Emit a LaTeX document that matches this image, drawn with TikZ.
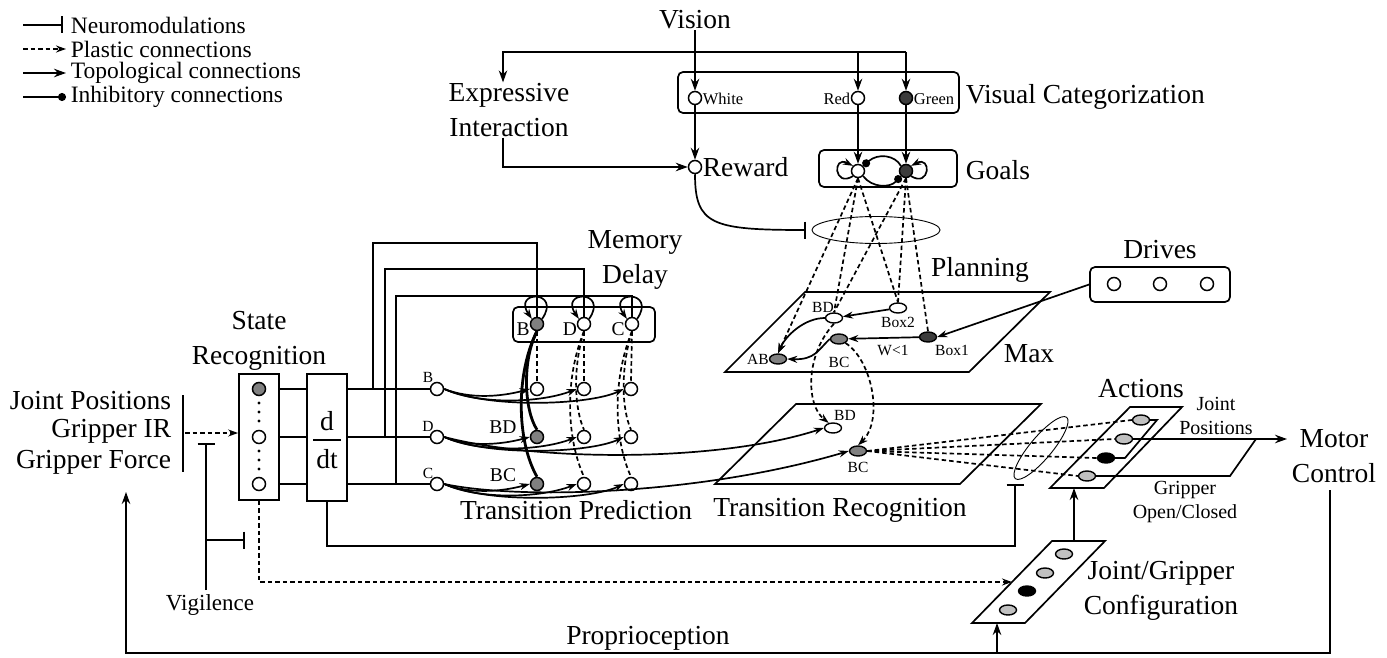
\documentclass[tikz,border=0pt]{standalone}
\usepackage{fontspec}
\setmainfont{Liberation Serif}
\usetikzlibrary{arrows.meta,shapes.geometric,calc}
\definecolor{mgray}{RGB}{128,128,128}
\definecolor{dgray}{RGB}{60,60,60}
\definecolor{lgray}{RGB}{192,192,192}
\begin{document}
\begin{tikzpicture}[x=1pt,y=-1pt,line width=1.7pt,
  big/.style={font=\fontsize{27.5}{35}\selectfont,inner sep=0pt,align=center},
  leg/.style={font=\fontsize{23.5}{25}\selectfont,inner sep=0pt,anchor=west},
  med/.style={font=\fontsize{19.5}{24}\selectfont,inner sep=0pt,align=center},
  sml/.style={font=\fontsize{15.5}{17}\selectfont,inner sep=0pt},
  nw/.style={circle,draw,fill=white,minimum size=13pt,inner sep=0pt,line width=1.5pt},
  ng/.style={nw,fill=mgray},
  nd/.style={nw,fill=dgray},
  ew/.style={ellipse,draw,fill=white,minimum width=17pt,minimum height=10pt,inner sep=0pt,line width=1.4pt},
  eg/.style={ew,fill=mgray},
  ed/.style={ew,fill=dgray},
  el/.style={ew,fill=lgray},
  ek/.style={ew,fill=black},
  ar/.style={-{Stealth[length=12pt,width=8.5pt]}},
  sar/.style={-{Stealth[length=10pt,width=7pt]}},
  pls/.style={dash pattern=on 4.5pt off 3pt},
  plsa/.style={pls,-{Stealth[length=10pt,width=7pt]}},
  inh/.style={-{Circle[length=8pt]}},
  nmod/.style={-{Bar[width=17pt]}},
  rbox/.style={draw,rounded corners=5pt,inner sep=0pt},
  sqbox/.style={draw,inner sep=0pt},
  hair/.style={line width=0.9pt},
  heavy/.style={line width=2.8pt},
]
\useasboundingbox (0,0) rectangle (1387,658);

% ---------------- legend
\node[leg] (lt1) at (70,25) {Neuromodulations};
\node[leg] (lt2) at (70,49) {Plastic connections};
\node[leg] (lt3) at (70,73) {Topological connections};
\node[leg] (lt4) at (70,97) {Inhibitory connections};
\coordinate (ls1) at (23,25); \coordinate (le1) at (63,25);
\coordinate (ls2) at (23,49); \coordinate (le2) at (66,49);
\coordinate (ls3) at (23,73); \coordinate (le3) at (66,73);
\coordinate (ls4) at (23,97); \coordinate (le4) at (66,97);
\draw[nmod] (ls1) -- (le1);
\draw[plsa] (ls2) -- (le2);
\draw[ar] (ls3) -- (le3);
\draw[inh] (ls4) -- (le4);

% ---------------- vision / visual categorization
\node[big] (vision) at (695,20) {Vision};
\node[rbox,minimum width=281pt,minimum height=41pt] (vcbox) at (818.5,92.5) {};
\node[nw] (white) at (695,98) {};
\node[nw] (red) at (858,98) {};
\node[nd] (green) at (906,98) {};
\node[sml,anchor=west,font=\fontsize{16.5}{18}\selectfont] (whitel) at (702,99) {White};
\node[sml,anchor=east,font=\fontsize{16.5}{18}\selectfont] (redl) at (851,99) {Red};
\node[sml,anchor=west,font=\fontsize{16.5}{18}\selectfont] (greenl) at (913,99) {Green};
\node[big,anchor=west] (vclab) at (965,97) {Visual Categorization};

\node[big] (expr) at (509,110) {Expressive\\Interaction};
\coordinate (vj) at (695,52);
\coordinate (ej) at (503,52);
\coordinate (gj) at (906,52);
\draw[ar] (vision) -- (white);
\draw[ar] (vj) -- (ej) -- (ej |- expr.north);
\draw (vj) -- (gj);
\draw[ar] (red |- vj) -- (red);
\draw[ar] (gj) -- (green);

\node[nw] (reward) at (695,167) {};
\node[big,anchor=west] (rewl) at (702,167) {Reward};
\draw[ar] (white) -- (reward);
\draw[ar] (ej |- expr.south) |- (reward);

\node[draw,ellipse,hair,minimum width=128pt,minimum height=27pt,inner sep=0pt] (modell) at (876,230) {};
\coordinate (nmr) at (806,230);
\draw[nmod] (reward.south) .. controls (695,225) and (712,230) .. (nmr);

% ---------------- goals
\node[rbox,minimum width=138pt,minimum height=37pt] (gbox) at (888,168.5) {};
\node[nw] (gw) at (858,171) {};
\node[nd] (gd) at (906,171) {};
\node[big,anchor=west] (goalsl) at (965,170) {Goals};
\draw[ar] (red) -- (gw);
\draw[ar] (green) -- (gd);
\draw[inh] (gd.north west) .. controls (895,155) and (878,153) .. (gw.north east);
\draw[inh] (gw.south east) .. controls (872,188) and (890,188) .. (gd.south west);
\draw[sar] (gw.225) .. controls (834,188) and (832,155) .. (gw.135);
\draw[sar] (gd.-45) .. controls (930,188) and (932,155) .. (gd.45);

% ---------------- planning
\coordinate (p1) at (805,292); \coordinate (p2) at (1050,292);
\coordinate (p3) at (969,372); \coordinate (p4) at (725,372);
\draw (p1) -- (p2) -- (p3) -- (p4) -- cycle;
\node[big] (planl) at (980,270) {Planning};
\node[big] (maxl) at (1029,354) {Max};
\node[ew] (pBD) at (834,318) {};
\node[ew] (pBoxB) at (898,308) {};
\node[eg] (pBC) at (839,339) {};
\node[ed] (pBoxA) at (928,337) {};
\node[eg] (pAB) at (778,359) {};
\node[sml] (pBDl) at (823,307) {BD};
\node[sml] (pBoxBl) at (898,322) {Box2};
\node[sml] (pBCl) at (839,362) {BC};
\node[sml] (pBoxAl) at (952,350) {Box1};
\node[sml] (pABl) at (758,359) {AB};
\node[sml] (pWl) at (893,350) {W<1};
\draw[sar] (pBoxB) -- (pBD);
\draw[sar] (pBoxA) -- (pBC);
\draw[sar] (pBD.west) .. controls (805,318) and (786,335) .. (pAB.north);
\draw[sar] (pBC.west) .. controls (818,350) and (815,360) .. (pAB.east);

% goals -> planning
\draw[plsa] (gw.south) -- (pAB.north);
\draw[pls] (gw.south) -- (pBD.north);
\draw[pls] (gw.south) -- (pBoxB.north);
\draw[pls] (gd.south) -- (pBD.north);
\draw[pls] (gd.south) -- (pBoxB.north);
\draw[pls] (gd.south) -- (pBoxA.north);

% drives
\node[rbox,minimum width=140pt,minimum height=35pt] (drv) at (1160,284.5) {};
\node[nw] (dr1) at (1114,284) {};
\node[nw] (dr2) at (1160,284) {};
\node[nw] (dr3) at (1207,284) {};
\node[big] (drvl) at (1160,250) {Drives};
\draw[sar] (drv.west) -- (pBoxA.east);

% ---------------- transition recognition
\coordinate (r1) at (796,404); \coordinate (r2) at (1041,404);
\coordinate (r3) at (960,484); \coordinate (r4) at (715,484);
\draw (r1) -- (r2) -- (r3) -- (r4) -- cycle;
\node[ew] (tBD) at (833,428) {};
\node[eg] (tBC) at (858,451) {};
\node[sml] (tBDl) at (845,415) {BD};
\node[sml] (tBCl) at (858,467) {BC};
\node[big] (trl) at (840,510) {Transition Recognition};
\draw[plsa] (pBD.south) .. controls (805,355) and (806,405) .. (tBD.130);
\draw[plsa] (pBC.south east) .. controls (872,360) and (884,420) .. (tBC.north);

% ---------------- actions
\coordinate (q1) at (1130,407); \coordinate (q2) at (1182,407);
\coordinate (q3) at (1104,488); \coordinate (q4) at (1050,488);
\draw (q1) -- (q2) -- (q3) -- (q4) -- cycle;
\node[big] (actl) at (1141,389) {Actions};
\node[el] (a1) at (1141,420) {};
\node[el] (a2) at (1124,439) {};
\node[ek] (a3) at (1106,458) {};
\node[el] (a4) at (1087,476) {};
\draw[pls] (tBC.east) -- (a1.west);
\draw[pls] (tBC.east) -- (a2.west);
\draw[pls] (tBC.east) -- (a3.west);
\draw[pls] (tBC.east) -- (a4.west);
\node[draw,ellipse,hair,minimum width=80pt,minimum height=22pt,inner sep=0pt,rotate=50] (aell) at (1041,448) {};
\coordinate (o1) at (1157,420); \coordinate (o2) at (1125,458);
\coordinate (o3) at (1256,439); \coordinate (o4) at (1230,476);
\coordinate (mctip) at (1287,439);
\draw (a1.east) -- (o1) -- (o2) -- (a3.east);
\draw[ar] (a2.east) -- (mctip);
\draw (a4.east) -- (o4) -- (o3);
\node[med,font=\fontsize{20}{24}\selectfont] (jpl) at (1216,416) {Joint\\Positions};
\node[med,font=\fontsize{20}{24}\selectfont] (gocl) at (1185,502) {Gripper\\Open/Closed};
\node[big] (mc) at (1334,456) {Motor\\Control};

% ---------------- joint / gripper configuration
\coordinate (j1) at (1052,541); \coordinate (j2) at (1105,541);
\coordinate (j3) at (1025,623); \coordinate (j4) at (972,623);
\draw (j1) -- (j2) -- (j3) -- (j4) -- cycle;
\node[el] (g1) at (1064,554) {};
\node[el] (g2) at (1045,573) {};
\node[ek] (g3) at (1027,591) {};
\node[el] (g4) at (1008,610) {};
\node[big] (jgl) at (1161,591) {Joint/Gripper\\Configuration};
\coordinate (jgt) at (1074,541); \coordinate (acb) at (1074,488);
\draw[ar] (jgt) -- (acb);

% ---------------- proprioception loop
\coordinate (mcb) at (1330,490); \coordinate (br) at (1330,653);
\coordinate (bl) at (126,653); \coordinate (jpb) at (126,492);
\coordinate (bj) at (997,653); \coordinate (jgb) at (997,623);
\draw[ar] (mcb) -- (br) -- (bl) -- (jpb);
\draw[ar] (bj) -- (jgb);
\node[big] (propl) at (648,638) {Proprioception};

% ---------------- inputs / state recognition
\node[big,anchor=east] (jpos) at (172,401) {Joint Positions};
\node[big,anchor=east] (gir) at (172,431) {Gripper IR};
\node[big,anchor=east] (gfor) at (172,462) {Gripper Force};
\coordinate (ib1) at (183,395); \coordinate (ib2) at (183,472);
\draw (ib1) -- (ib2);
\node[sqbox,minimum width=40pt,minimum height=126pt] (sr) at (259,437) {};
\node[big] (srl) at (259,341) {State\\Recognition};
\coordinate (inb) at (185,433);
\draw[plsa] (inb) -- (sr.west |- inb);
\node[ng] (s1) at (259,389) {};
\node[nw] (s2) at (259,437) {};
\node[nw] (s3) at (259,484) {};
\foreach \yy in {403,412,421,451,460,469} \fill (259,\yy) circle (1.6pt);

\node[sqbox,minimum width=40pt,minimum height=127pt] (ddt) at (327,437.5) {};
\node[big] (dd) at (327,421) {d};
\node[big] (dtt) at (327,459) {dt};
\coordinate (fr1) at (313,440); \coordinate (fr2) at (341,440);
\draw[line width=1.3pt] (fr1) -- (fr2);
\draw (s1 -| sr.east) -- (s1 -| ddt.west);
\draw (s2 -| sr.east) -- (s2 -| ddt.west);
\draw (s3 -| sr.east) -- (s3 -| ddt.west);

% vigilence
\node[med,font=\fontsize{23}{25}\selectfont] (vigl) at (210,605) {Vigilence};
\coordinate (vg1) at (206,590); \coordinate (vg2) at (206,443);
\coordinate (vg3) at (206,540); \coordinate (vg4) at (245,540);
\draw[nmod] (vg1) -- (vg2);
\draw[nmod] (vg3) -- (vg4);

% SR -> joint/gripper (plastic)
\coordinate (srd) at (259,582);
\coordinate (jgin) at ($(j4)!0.5!(j1)$);
\draw[plsa] (sr.south) -- (srd) -- (jgin);

% d/dt -> modulation of actions
\coordinate (nbb) at (1015,546); \coordinate (nb) at (1015,484);
\draw[nmod] (ddt.south) |- (nbb) -- (nb);

% ---------------- transition prediction inputs
\node[nw] (iB) at (437,389) {};
\node[nw] (iD) at (437,437) {};
\node[nw] (iC) at (437,484) {};
\node[sml] (iBl) at (428,377) {B};
\node[sml] (iDl) at (428,426) {D};
\node[sml] (iCl) at (428,473) {C};
\draw (ddt.east |- iB) -- (iB);
\draw (ddt.east |- iD) -- (iD);
\draw (ddt.east |- iC) -- (iC);

% memory delay
\node[rbox,minimum width=142pt,minimum height=35pt] (mbox) at (584,324.5) {};
\node[ng] (mB) at (537,324) {};
\node[nw] (mD) at (584,324) {};
\node[nw] (mC) at (632,324) {};
\node[med] (mBl) at (523,329) {B};
\node[med] (mDl) at (570,329) {D};
\node[med] (mCl) at (618,329) {C};
\node[big] (meml) at (635,260) {Memory\\Delay};
\draw[sar] (mB.45) .. controls (562,290) and (512,290) .. (mB.135);
\draw[sar] (mD.45) .. controls (609,290) and (559,290) .. (mD.135);
\draw[sar] (mC.45) .. controls (657,290) and (607,290) .. (mC.135);
\coordinate (fB1) at (373,389); \coordinate (fB2) at (373,243); \coordinate (fB3) at (537,243);
\coordinate (fD1) at (385,437); \coordinate (fD2) at (385,269); \coordinate (fD3) at (584,269);
\coordinate (fC1) at (396,484); \coordinate (fC2) at (396,296); \coordinate (fC3) at (632,296);
\draw (fB1) -- (fB2) -- (fB3) -- (mB.north);
\draw (fD1) -- (fD2) -- (fD3) -- (mD.north);
\draw (fC1) -- (fC2) -- (fC3) -- (mC.north);

% transition prediction grid
\node[nw] (tB1) at (537,389) {};
\node[nw] (tB2) at (584,389) {};
\node[nw] (tB3) at (631,389) {};
\node[ng] (tD1) at (537,437) {};
\node[nw] (tD2) at (584,437) {};
\node[nw] (tD3) at (631,437) {};
\node[ng] (tC1) at (537,484) {};
\node[nw] (tC2) at (584,484) {};
\node[nw] (tC3) at (631,484) {};
\node[med] (tBDl) at (503,427) {BD};
\node[med] (tBCl) at (503,475) {BC};
\node[big] (tpl) at (576,510) {Transition Prediction};

\draw[pls] (mB.south) -- (tB1.north);
\draw[pls] (mD.south) -- (tB2.north);
\draw[pls] (mD.south) .. controls (572,370) and (575,410) .. (tD2.north);
\draw[pls] (mD.south) .. controls (564,380) and (567,440) .. (tC2.north);
\draw[pls] (mC.south) -- (tB3.north);
\draw[pls] (mC.south) .. controls (620,370) and (622,410) .. (tD3.north);
\draw[pls] (mC.south) .. controls (612,380) and (614,440) .. (tC3.north);
\draw[heavy] (mB.south) .. controls (522,360) and (524,410) .. (tD1.north);
\draw[heavy] (mB.south) .. controls (516,372) and (516,440) .. (tC1.north);

\draw[sar] (iB.east) .. controls (470,399) and (500,397) .. (tB1.west);
\draw[sar] (iB.east) .. controls (480,405) and (540,403) .. (tB2.west);
\draw[sar] (iB.east) .. controls (490,409) and (590,405) .. (tB3.west);
\draw[sar] (iD.east) .. controls (470,447) and (500,445) .. (tD1.west);
\draw[sar] (iD.east) .. controls (480,453) and (540,451) .. (tD2.west);
\draw[sar] (iD.east) .. controls (490,457) and (590,453) .. (tD3.west);
\draw[sar] (iC.east) .. controls (470,494) and (500,492) .. (tC1.west);
\draw[sar] (iC.east) .. controls (480,500) and (540,498) .. (tC2.west);
\draw[sar] (iC.east) .. controls (490,504) and (590,500) .. (tC3.west);
\draw[sar] (iD.east) .. controls (540,462) and (720,462) .. (tBD.west);
\draw[sar] (iC.east) .. controls (520,500) and (700,495) .. (tBC.west);
\end{tikzpicture}
\end{document}
